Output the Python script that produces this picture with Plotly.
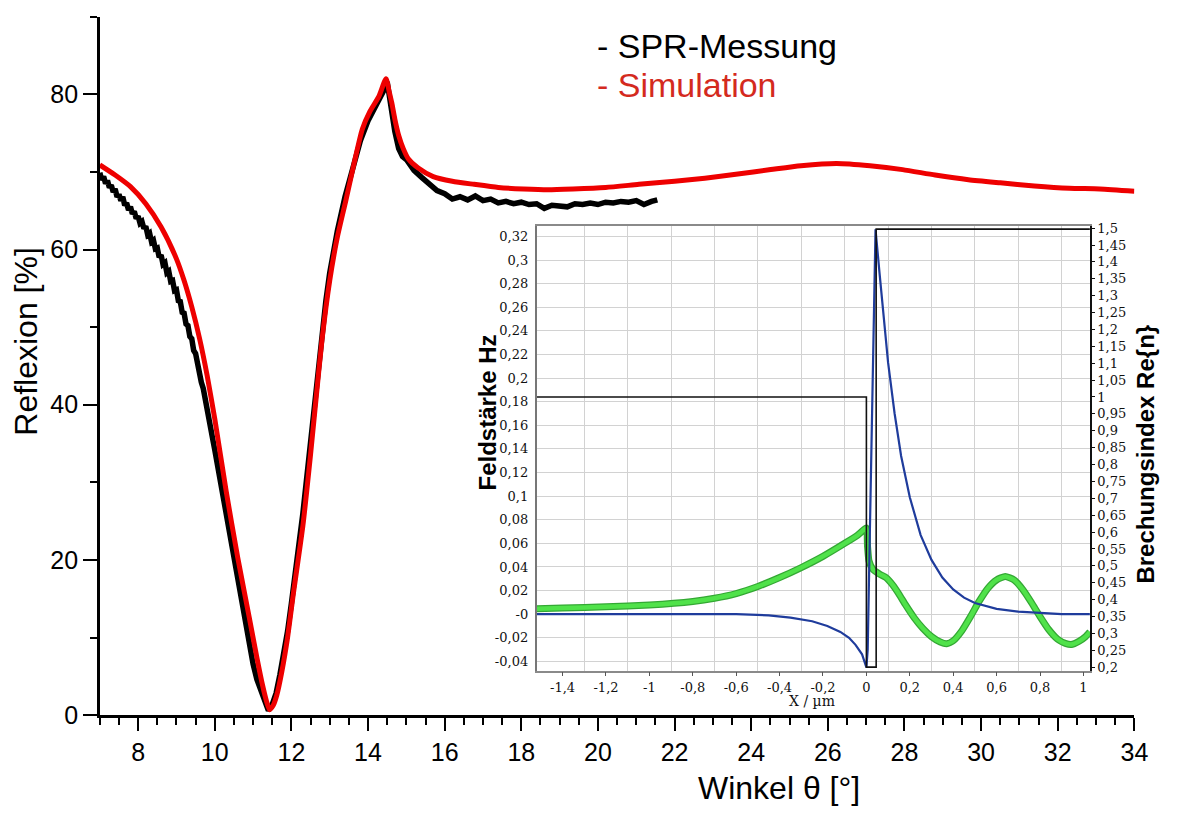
import plotly.graph_objects as go

W, H = 1180, 820

# ---------------- main chart data ----------------
sim_theta = [7.0, 7.4, 7.8, 8.2, 8.6, 9.0, 9.2, 9.4, 9.6, 9.8, 10.0, 10.3, 10.6, 10.9, 11.1, 11.25,
             11.35, 11.43, 11.52, 11.62, 11.75, 11.9, 12.05, 12.3, 12.5, 12.65, 12.8, 13.0, 13.2,
             13.42, 13.65, 13.85, 14.05, 14.28, 14.47, 14.55, 14.62, 14.7, 14.8, 14.92, 15.05, 15.31,
             15.7, 16.2, 16.77, 17.4, 18.06, 18.7, 19.35, 20.2, 21.07, 22.0, 22.79, 23.6, 24.51,
             25.3, 26.23, 27.1, 27.95, 28.8, 29.67, 30.5, 31.39, 32.3, 33.1, 34.0]
sim_refl = [70.9, 69.6, 68.1, 65.9, 62.9, 58.8, 56.0, 52.6, 48.6, 43.8, 38.2, 28.8, 20.3, 12.6, 7.4,
            3.8, 1.8, 0.7, 1.2, 2.6, 5.6, 10.0, 15.6, 24.4, 33.6, 41.1, 48.4, 56.0, 61.6,
            66.3, 71.4, 75.5, 77.8, 79.7, 82.0, 80.4, 78.9, 76.8, 74.7, 73.0, 71.7, 70.5,
            69.4, 68.8, 68.4, 68.0, 67.8, 67.7, 67.8, 68.0, 68.4, 68.8, 69.2, 69.7, 70.3,
            70.8, 71.1, 70.8, 70.3, 69.6, 69.0, 68.6, 68.2, 67.9, 67.8, 67.5]

meas_theta = [7.0, 7.05, 7.1, 7.15, 7.2, 7.25, 7.3, 7.35, 7.4, 7.45, 7.5, 7.55, 7.6, 7.65, 7.7, 7.75,
              7.8, 7.85, 7.9, 7.95, 8.0, 8.05, 8.1, 8.15, 8.2, 8.25, 8.3, 8.35, 8.4, 8.45, 8.5, 8.55,
              8.6, 8.65, 8.7, 8.75, 8.8, 8.85, 8.9, 8.95, 9.0, 9.05, 9.1, 9.15, 9.2, 9.25, 9.3, 9.35,
              9.4, 9.45, 9.5, 9.55, 9.6, 9.65, 9.7, 9.75, 9.8, 9.85, 9.9, 9.95, 10.0,
              10.1, 10.2, 10.3, 10.4, 10.5, 10.6, 10.7, 10.8, 10.9, 11.0, 11.1, 11.2, 11.3, 11.4,
              11.5, 11.6, 11.7, 11.8, 11.9, 12.0, 12.1, 12.2, 12.3, 12.4, 12.5, 12.6, 12.7, 12.8,
              12.9, 13.0, 13.2, 13.4, 13.6, 13.8, 14.0, 14.2, 14.4, 14.5, 14.55, 14.6, 14.7, 14.8,
              14.9, 15.0, 15.2, 15.4, 15.6, 15.8, 16.0, 16.2, 16.4, 16.6, 16.8, 17.0, 17.2, 17.4,
              17.6, 17.8, 18.0, 18.2, 18.4, 18.6, 18.8, 19.0, 19.2, 19.4, 19.6, 19.8, 20.0, 20.2,
              20.4, 20.6, 20.8, 21.0, 21.2, 21.4, 21.55]
meas_refl = [69.9, 69.0, 69.4, 68.5, 68.9, 68.0, 68.3, 67.4, 67.8, 66.8, 67.1, 66.3, 66.8, 65.7,
             66.0, 65.1, 65.5, 64.6, 64.9, 64.0, 64.3, 63.4, 63.6, 62.7, 63.0, 61.9, 62.1, 61.0,
             61.2, 60.1, 60.2, 59.0, 59.3, 58.1, 58.3, 57.0, 57.2, 55.9, 56.0, 54.7, 54.8, 53.4,
             53.3, 51.9, 51.8, 50.4, 50.2, 48.8, 48.5, 47.0, 46.6, 45.0, 44.5, 42.9, 42.1, 40.6,
             39.6, 38.2, 37.0, 35.5, 34.2,
             31.4, 28.6, 26.0, 23.2, 20.6, 17.5, 14.3, 11.5, 8.8, 6.6, 4.6, 3.1, 1.7, 0.6,
             1.4, 2.8, 5.2, 7.8, 10.8, 14.4, 18.0, 21.8, 26.0, 30.6, 35.4, 40.4, 45.0, 49.4,
             53.4, 57.0, 62.4, 66.8, 70.6, 74.0, 76.6, 78.4, 80.4, 81.6, 79.8, 77.6, 75.2, 73.0,
             72.0, 71.6, 70.2, 69.3, 68.4, 67.6, 67.2, 66.5, 66.8, 66.4, 66.9, 66.3, 66.5, 66.0,
             66.2, 65.9, 66.1, 65.8, 65.9, 65.3, 65.7, 65.6, 65.5, 65.9, 65.8, 66.0, 65.8, 66.1,
             66.0, 66.2, 66.1, 66.3, 65.8, 66.2, 66.4]

main_xtick_vals = [8, 10, 12, 14, 16, 18, 20, 22, 24, 26, 28, 30, 32, 34]
main_xtick_text = ["8", "10", "12", "14", "16", "18", "20", "22", "24", "26", "28", "30", "32", "34"]
main_ytick_vals = [0, 20, 40, 60, 80]
main_ytick_text = ["0", "20", "40", "60", "80"]

legend_labels = ["- SPR-Messung", "- Simulation"]

# ---------------- inset data ----------------
n_x = [-1.52, 0.0, 0.0, 0.045, 0.045, 1.03]
n_re = [1.0, 1.0, 0.2, 0.2, 1.497, 1.497]

blue_x = [-1.52, -0.8, -0.6, -0.45, -0.35, -0.25, -0.18, -0.12, -0.08, -0.05, -0.02, 0.0, 0.006,
          0.015, 0.03, 0.042, 0.06, 0.08, 0.10, 0.13, 0.16, 0.20, 0.25, 0.30, 0.35, 0.40, 0.45,
          0.50, 0.60, 0.70, 0.80, 0.90, 1.03]
blue_hz = [0.0, 0.0, 0.0, -0.001, -0.003, -0.006, -0.010, -0.015, -0.020, -0.026, -0.034, -0.045,
           -0.030, 0.06, 0.20, 0.326, 0.29, 0.25, 0.213, 0.17, 0.134, 0.099, 0.067, 0.046, 0.031,
           0.021, 0.014, 0.0095, 0.0045, 0.0022, 0.001, 0.0, 0.0]

green_x = [-1.52, -1.4, -1.2, -1.0, -0.8, -0.7, -0.6, -0.5, -0.4, -0.3, -0.2, -0.1, -0.04, 0.0,
           0.005, 0.012, 0.03, 0.06, 0.09, 0.12, 0.15, 0.18, 0.22, 0.26, 0.30, 0.34, 0.37, 0.40,
           0.44, 0.48, 0.52, 0.56, 0.60, 0.64, 0.68, 0.72, 0.76, 0.80, 0.84, 0.88, 0.92, 0.95,
           0.98, 1.01, 1.03]
green_hz = [0.0045, 0.0052, 0.0062, 0.0078, 0.0108, 0.0135, 0.0175, 0.0235, 0.031, 0.0395, 0.049,
            0.060, 0.067, 0.073, 0.058, 0.045, 0.038, 0.034, 0.031, 0.025, 0.017, 0.008, -0.003,
            -0.012, -0.019, -0.0235, -0.025, -0.0225, -0.014, -0.002, 0.011, 0.022, 0.029, 0.032,
            0.029, 0.021, 0.010, -0.002, -0.013, -0.021, -0.025, -0.0255, -0.023, -0.019, -0.015]

inset_xtick_vals = [-1.4, -1.2, -1.0, -0.8, -0.6, -0.4, -0.2, 0.0, 0.2, 0.4, 0.6, 0.8, 1.0]
inset_xtick_text = ["-1,4", "-1,2", "-1", "-0,8", "-0,6", "-0,4", "-0,2", "0", "0,2", "0,4",
                    "0,6", "0,8", "1"]
inset_xgrid_vals = [-1.3, -1.1, -0.9, -0.7, -0.5, -0.3, -0.1, 0.1, 0.3, 0.5, 0.7, 0.9]
inset_ltick_vals = [-0.04, -0.02, 0.0, 0.02, 0.04, 0.06, 0.08, 0.10, 0.12, 0.14, 0.16, 0.18,
                    0.20, 0.22, 0.24, 0.26, 0.28, 0.30, 0.32]
inset_ltick_text = ["-0,04", "-0,02", "-0", "0,02", "0,04", "0,06", "0,08", "0,1", "0,12",
                    "0,14", "0,16", "0,18", "0,2", "0,22", "0,24", "0,26", "0,28", "0,3", "0,32"]
inset_rtick_vals = [0.2, 0.25, 0.3, 0.35, 0.4, 0.45, 0.5, 0.55, 0.6, 0.65, 0.7, 0.75, 0.8, 0.85,
                    0.9, 0.95, 1.0, 1.05, 1.1, 1.15, 1.2, 1.25, 1.3, 1.35, 1.4, 1.45, 1.5]
inset_rtick_text = ["0,2", "0,25", "0,3", "0,35", "0,4", "0,45", "0,5", "0,55", "0,6", "0,65",
                    "0,7", "0,75", "0,8", "0,85", "0,9", "0,95", "1", "1,05", "1,1", "1,15",
                    "1,2", "1,25", "1,3", "1,35", "1,4", "1,45", "1,5"]


def px(x):
    return x / W


def py(y):
    return 1 - y / H


SANS = "Liberation Sans, Arial, sans-serif"
SERIF = "DejaVu Serif, serif"

fig = go.Figure()

fig.add_trace(go.Scatter(x=meas_theta, y=meas_refl, mode="lines",
                         line=dict(color="#000000", width=5.5), showlegend=False,
                         xaxis="x", yaxis="y"))
fig.add_trace(go.Scatter(x=sim_theta, y=sim_refl, mode="lines",
                         line=dict(color="#ee0000", width=5, shape="spline", smoothing=0.6),
                         showlegend=False, xaxis="x", yaxis="y"))

fig.add_trace(go.Scatter(x=green_x, y=green_hz, mode="lines",
                         line=dict(color="#34a834", width=7, shape="spline", smoothing=0.5),
                         showlegend=False, xaxis="x2", yaxis="y2"))
fig.add_trace(go.Scatter(x=green_x, y=green_hz, mode="lines",
                         line=dict(color="#50e24a", width=4.5, shape="spline", smoothing=0.5),
                         showlegend=False, xaxis="x2", yaxis="y2"))
fig.add_trace(go.Scatter(x=n_x, y=n_re, mode="lines",
                         line=dict(color="#111111", width=1.6), showlegend=False,
                         xaxis="x2", yaxis="y3"))
fig.add_trace(go.Scatter(x=blue_x, y=blue_hz, mode="lines",
                         line=dict(color="#1f3c9c", width=2.2), showlegend=False,
                         xaxis="x2", yaxis="y2"))
fig.add_trace(go.Scatter(x=[inset_xtick_vals[0]], y=[inset_ltick_vals[0]], mode="markers",
                         marker=dict(opacity=0), showlegend=False, hoverinfo="skip",
                         xaxis="x3", yaxis="y2"))

main_x_dom = [px(101), px(1148)]
main_y_dom = [py(727), py(12)]
ins_x_dom = [px(543), px(1103)]
ins_y_dom = [py(682), py(226)]
ins_xr = [-1.52, 1.03]

fig.update_layout(
    width=W, height=H,
    margin=dict(l=0, r=0, t=0, b=0),
    paper_bgcolor="white", plot_bgcolor="white",
    showlegend=False,
    xaxis=dict(domain=main_x_dom, anchor="y", range=[7, 34], showline=True, linecolor="black",
               linewidth=2.5, showgrid=False, zeroline=False, ticks="outside", ticklen=13,
               tickwidth=2, tickcolor="black", tickmode="array", tickvals=main_xtick_vals,
               ticktext=main_xtick_text, tickfont=dict(family=SANS, size=25, color="black"),
               minor=dict(dtick=0.5, tick0=7, ticks="outside", ticklen=7, tickwidth=2,
                          tickcolor="black", showgrid=False)),
    yaxis=dict(domain=main_y_dom, anchor="x", range=[0, 90], showline=True, linecolor="black",
               linewidth=2.5, showgrid=False, zeroline=False, ticks="outside", ticklen=14,
               tickwidth=2, tickcolor="black", tickmode="array", tickvals=main_ytick_vals,
               ticktext=main_ytick_text, tickfont=dict(family=SANS, size=25, color="black"),
               minor=dict(dtick=10, tick0=0, ticks="outside", ticklen=7, tickwidth=2,
                          tickcolor="black", showgrid=False)),
    xaxis2=dict(domain=ins_x_dom, anchor="y2", range=ins_xr, showline=True, linecolor="#8a8a8a",
                linewidth=1.5, mirror=True, showgrid=True, gridcolor="#d2d2d2", gridwidth=1,
                zeroline=False, tickmode="array", tickvals=inset_xgrid_vals,
                showticklabels=False, ticks=""),
    xaxis3=dict(overlaying="x2", anchor="y2", side="bottom", range=ins_xr, showline=False,
                showgrid=False, zeroline=False, tickmode="array", tickvals=inset_xtick_vals,
                ticktext=inset_xtick_text, ticks="outside", ticklen=4, tickcolor="#555",
                tickwidth=1, tickfont=dict(family=SERIF, size=13, color="#111")),
    yaxis2=dict(domain=ins_y_dom, anchor="x2", range=[-0.0483, 0.329], showline=True,
                linecolor="#777777", linewidth=1.5, showgrid=True, gridcolor="#d2d2d2",
                gridwidth=1, zeroline=False, tickmode="array", tickvals=inset_ltick_vals,
                ticktext=inset_ltick_text, ticks="", ticklabelstandoff=4,
                tickfont=dict(family=SERIF, size=13, color="#111")),
    yaxis3=dict(overlaying="y2", anchor="x2", side="right", range=[0.188, 1.507],
                showline=True, linecolor="#111", linewidth=1.5, showgrid=False, zeroline=False,
                tickmode="array", tickvals=inset_rtick_vals, ticktext=inset_rtick_text,
                ticks="outside", ticklen=3, tickcolor="#111", tickwidth=1,
                tickfont=dict(family=SERIF, size=13, color="#111")),
)

annotations = [
    dict(text="Reflexion [%]", x=px(26), y=py(344), xref="paper", yref="paper",
         textangle=-90, showarrow=False, xanchor="center", yanchor="middle",
         font=dict(family=SANS, size=32, color="black")),
    dict(text="Winkel θ [°]", x=px(788), y=py(802), xref="paper", yref="paper",
         showarrow=False, xanchor="center", yanchor="middle",
         font=dict(family=SANS, size=32, color="black")),
    dict(text=legend_labels[0], x=px(602), y=py(42), xref="paper", yref="paper",
         showarrow=False, xanchor="left", yanchor="middle",
         font=dict(family=SANS, size=34, color="black")),
    dict(text=legend_labels[1], x=px(602), y=py(82), xref="paper", yref="paper",
         showarrow=False, xanchor="left", yanchor="middle",
         font=dict(family=SANS, size=34, color="#d42a1e")),
    dict(text="<b>Feldstärke Hz</b>", x=px(493), y=py(417), xref="paper", yref="paper",
         textangle=-90, showarrow=False, xanchor="center", yanchor="middle",
         font=dict(family=SANS, size=24, color="black")),
    dict(text="<b>Brechungsindex Re{n}</b>", x=px(1159), y=py(460), xref="paper", yref="paper",
         textangle=-90, showarrow=False, xanchor="center", yanchor="middle",
         font=dict(family=SANS, size=24, color="black")),
    dict(text="X / µm", x=px(822), y=py(713), xref="paper", yref="paper",
         showarrow=False, xanchor="center", yanchor="middle",
         font=dict(family=SERIF, size=14, color="#111")),
]
fig.update_layout(annotations=annotations)

# the page is shown edge to edge: no default body margin
page_fix = """
document.body.style.margin = '0';
document.body.style.padding = '0';
"""

fig.write_html("out.html", post_script=page_fix)
